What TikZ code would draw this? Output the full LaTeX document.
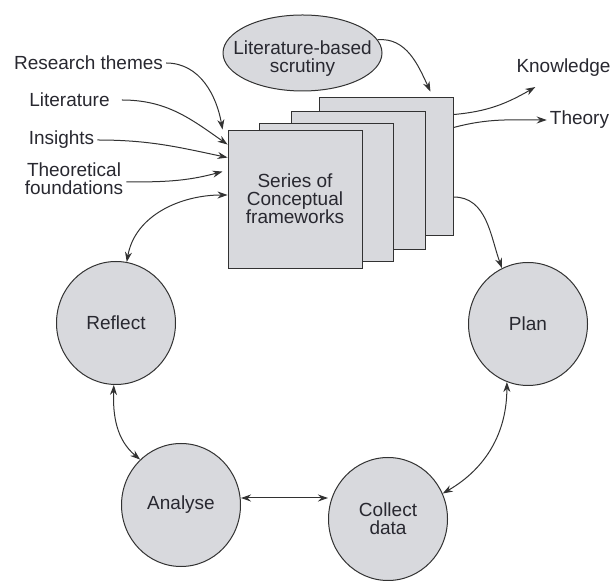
\documentclass[tikz,border=0pt]{standalone}
\usepackage{fontspec}
\setmainfont{Liberation Sans}
\usepackage{tikz}
\usepackage{xcolor}
\usetikzlibrary{arrows.meta,shapes.geometric}
\definecolor{boxgray}{RGB}{216,217,221}
\definecolor{linegray}{RGB}{50,50,50}
\definecolor{inkgray}{RGB}{40,40,48}
\tikzstyle{frame}=[rectangle, draw=linegray, fill=boxgray, line width=0.9pt, minimum width=134pt, minimum height=138pt, inner sep=0pt]
\tikzstyle{oval}=[ellipse, draw=linegray, fill=boxgray, line width=1pt, minimum width=159pt, minimum height=76pt, inner sep=0pt]
\tikzstyle{stage}=[ellipse, draw=linegray, fill=boxgray, line width=1pt, minimum width=119pt, minimum height=123pt, inner sep=0pt]
\tikzstyle{source}=[inner sep=3pt]
\tikzstyle{flow}=[draw=linegray, line width=1pt, -{Stealth[length=10pt,width=7pt]}]
\tikzstyle{twoway}=[draw=linegray, line width=1pt, {Stealth[length=10pt,width=7pt]}-{Stealth[length=10pt,width=7pt]}]

\begin{document}
\begin{tikzpicture}[x=1pt, y=1pt, every node/.style={font=\fontsize{19}{18}\selectfont, text=inkgray, align=center}]
        \useasboundingbox (0,0) rectangle (612,580);

        % Stack of frameworks, back to front
        \node (F4) at (386,414) [frame] {};
        \node (F3) at (358.5,400) [frame] {};
        \node (F2) at (326,387.5) [frame] {};
        \node (F1) at (295,381) [frame] {Series of\\Conceptual\\frameworks};
        \node (L) at (302.5,527) [oval, label={[yshift=-6pt]center:{Literature-based\\scrutiny}}] {};

        % Inputs on the left, outputs on the right
        \node (RT) at (88.5,517) [source] {Research themes};
        \node (Li) at (69.5,480) [source] {Literature};
        \node (In) at (61.5,440) [source] {Insights};
        \node (TF) at (74,401) [source] {Theoretical\\foundations};
        \node (K) at (563.5,512) [source] {Knowledge};
        \node (T) at (579.5,460) [source] {Theory};

        % The action research cycle
        \node (R) at (116,257) [stage] {Reflect};
        \node (P) at (528,256) [stage] {Plan};
        \node (A) at (181,75) [stage] {Analyse};
        \node (C) at (388,61) [stage] {Collect\\data};

        \draw[flow] (RT.east) to[out=0, in=100] ([xshift=-5pt]F1.north west);
        \draw[flow] ([xshift=9pt]Li.east) to[out=0, in=145] ([yshift=-15pt]F1.north west);
        \draw[flow] (In.east) to[out=0, in=168] ([yshift=-28pt]F1.north west);
        \draw[flow] ([yshift=-3pt]TF.east) to[out=0, in=195] ([xshift=-5pt,yshift=-42pt]F1.north west);

        \draw[flow] (L.10) to[out=5, in=115] ([xshift=-23pt,yshift=5pt]F4.north east);
        \draw[flow] ([yshift=-18pt]F4.north east) to[out=5, in=210] ([xshift=22pt,yshift=-7pt]K.south west);
        \draw[flow] ([yshift=-31pt]F4.north east) to[out=15, in=180] (T.west);
        \draw[flow] ([yshift=-31pt]F4.east) to[out=0, in=110] (P.115);

        \draw[twoway] ([yshift=4pt]F1.west) to[out=180, in=80] (R.80);
        \draw[twoway] (R.268) to[out=268, in=140] (A.132);
        \draw[twoway] ([yshift=7pt]A.east) -- ([yshift=21pt]C.west);
        \draw[twoway] (P.250) to[out=270, in=30] (C.25);
\end{tikzpicture}
\end{document}
